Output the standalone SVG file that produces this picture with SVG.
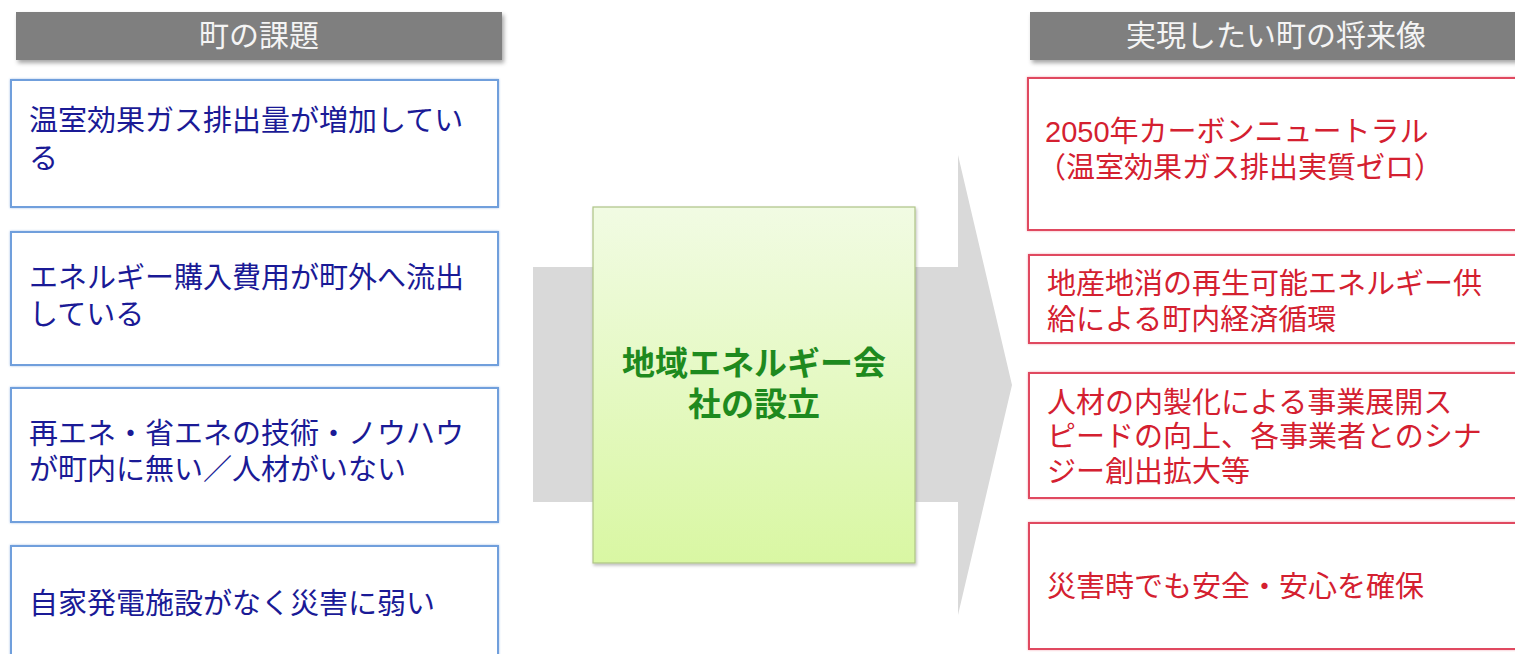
<svg xmlns="http://www.w3.org/2000/svg" width="1515" height="654" viewBox="0 0 1515 654">
<defs>
<linearGradient id="gGreen" x1="0" y1="0" x2="0" y2="1">
<stop offset="0" stop-color="#f1fbe3"/>
<stop offset="1" stop-color="#d9f7a3"/>
</linearGradient>
<filter id="shadow" x="-5%" y="-20%" width="110%" height="150%">
<feDropShadow dx="2" dy="3" stdDeviation="2" flood-color="#000" flood-opacity="0.35"/>
</filter>
<filter id="glowB" x="-5%" y="-10%" width="110%" height="120%">
<feDropShadow dx="0" dy="0" stdDeviation="1.2" flood-color="#7fa8e0" flood-opacity="0.7"/>
</filter>
<filter id="glowR" x="-5%" y="-10%" width="110%" height="120%">
<feDropShadow dx="0" dy="0" stdDeviation="1.2" flood-color="#f08090" flood-opacity="0.7"/>
</filter>
<filter id="shadowG" x="-5%" y="-5%" width="110%" height="110%">
<feDropShadow dx="1" dy="2" stdDeviation="1.5" flood-color="#000" flood-opacity="0.25"/>
</filter>
</defs>
<style>
text { font-family: "Liberation Sans", "Noto Sans CJK JP", sans-serif; }
.hdr { fill: #7f7f7f; }
.hdrText { fill: #f4f4f4; font-size: 30px; text-anchor: middle; }
.blueBox { fill: #ffffff; stroke: #6f9fdc; stroke-width: 2; }
.redBox { fill: #ffffff; stroke: #e04860; stroke-width: 2; }
.blueText { fill: #1a1a96; font-size: 29px; }
.redText { fill: #d42030; font-size: 29px; }
.greenText { fill: #1e8a1e; font-size: 33px; font-weight: bold; text-anchor: middle; }
</style>

<g id="connectors">
<polygon points="533,267 958,267 958,155 1012,385 958,615 958,502 533,502" fill="#d9d9d9"/>
</g>

<g id="header-left">
<rect class="hdr" x="16" y="12" width="486" height="48" filter="url(#shadow)"/>
<text class="hdrText" x="259" y="46">町の課題</text>
</g>

<g id="header-right">
<rect class="hdr" x="1030" y="12" width="495" height="48" filter="url(#shadow)"/>
<text class="hdrText" x="1276" y="46">実現したい町の将来像</text>
</g>

<g id="issue-1">
<rect class="blueBox" x="11" y="80" width="487" height="127" filter="url(#glowB)"/>
<text class="blueText" x="29" y="131">温室効果ガス排出量が増加してい<tspan x="29" dy="38">る</tspan></text>
</g>

<g id="issue-2">
<rect class="blueBox" x="11" y="232" width="487" height="133" filter="url(#glowB)"/>
<text class="blueText" x="29" y="288">エネルギー購入費用が町外へ流出<tspan x="29" dy="37">している</tspan></text>
</g>

<g id="issue-3">
<rect class="blueBox" x="11" y="388" width="487" height="134" filter="url(#glowB)"/>
<text class="blueText" x="29" y="444">再エネ・省エネの技術・ノウハウ<tspan x="29" dy="36">が町内に無い／人材がいない</tspan></text>
</g>

<g id="issue-4">
<rect class="blueBox" x="11" y="546" width="487" height="120" filter="url(#glowB)"/>
<text class="blueText" x="29" y="614">自家発電施設がなく災害に弱い</text>
</g>

<g id="center">
<rect x="593" y="207" width="322" height="356" fill="url(#gGreen)" stroke="#aec486" stroke-width="1.2" filter="url(#shadowG)"/>
<text class="greenText" x="754" y="375">地域エネルギー会<tspan x="754" dy="41">社の設立</tspan></text>
</g>

<g id="vision-1">
<rect class="redBox" x="1028" y="78" width="495" height="152" filter="url(#glowR)"/>
<text class="redText" x="1045" y="142">2050年カーボンニュートラル<tspan x="1037" dy="36">（温室効果ガス排出実質ゼロ）</tspan></text>
</g>

<g id="vision-2">
<rect class="redBox" x="1029" y="255" width="495" height="88" filter="url(#glowR)"/>
<text class="redText" x="1047" y="294">地産地消の再生可能エネルギー供<tspan x="1047" dy="36">給による町内経済循環</tspan></text>
</g>

<g id="vision-3">
<rect class="redBox" x="1029" y="373" width="495" height="125" filter="url(#glowR)"/>
<text class="redText" x="1047" y="413">人材の内製化による事業展開ス<tspan x="1047" dy="34">ピードの向上、各事業者とのシナ</tspan><tspan x="1047" dy="35">ジー創出拡大等</tspan></text>
</g>

<g id="vision-4">
<rect class="redBox" x="1029" y="523" width="495" height="126" filter="url(#glowR)"/>
<text class="redText" x="1047" y="597">災害時でも安全・安心を確保</text>
</g>
</svg>
